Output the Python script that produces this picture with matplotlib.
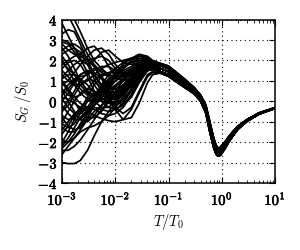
import matplotlib
matplotlib.use("Agg")
import matplotlib.pyplot as plt
import matplotlib.patheffects as pe

plt.rcParams['mathtext.fontset'] = 'cm'
plt.rcParams['font.family'] = 'serif'
plt.rcParams['font.serif'] = ['DejaVu Serif']

# x grid (T/T0) for the spread-out low-temperature part
x_head = [0.001, 0.0013, 0.0017, 0.0022, 0.003, 0.004, 0.0055, 0.0075,
          0.01, 0.014, 0.02, 0.028, 0.04, 0.05]
# x grid for the converged high-temperature part
x_tail = [0.07, 0.1, 0.15, 0.2, 0.3, 0.4, 0.5, 0.6, 0.7, 0.75, 0.8, 0.85, 0.9,
          0.95, 1.0, 1.15, 1.3, 1.6, 2.0, 3.0, 5.0, 10.0]

tail_top = [1.85, 1.72, 1.35, 1.08, 0.68, 0.3, -0.18, -1.05, -1.78, -2.03, -2.2, -2.28,
            -2.28, -2.23, -2.15, -1.98, -1.78, -1.49, -1.22, -0.89, -0.57, -0.31]
tail_hi = [1.75, 1.6, 1.25, 1.0, 0.62, 0.25, -0.25, -1.15, -1.85, -2.1, -2.27, -2.35,
           -2.35, -2.3, -2.22, -2.03, -1.82, -1.52, -1.24, -0.9, -0.58, -0.32]
tail_mid = [1.6, 1.45, 1.1, 0.87, 0.52, 0.15, -0.38, -1.3, -2.0, -2.25, -2.42, -2.5,
            -2.5, -2.45, -2.36, -2.15, -1.92, -1.6, -1.3, -0.93, -0.6, -0.33]
tail_lo = [1.45, 1.3, 0.97, 0.75, 0.42, 0.05, -0.5, -1.45, -2.15, -2.4, -2.57, -2.63,
           -2.62, -2.57, -2.48, -2.26, -2.02, -1.68, -1.35, -0.96, -0.62, -0.34]
tail_bot = [1.38, 1.22, 0.9, 0.68, 0.37, 0.0, -0.58, -1.55, -2.25, -2.48, -2.63, -2.68,
            -2.67, -2.62, -2.54, -2.31, -2.06, -1.71, -1.37, -0.97, -0.63, -0.35]
tails = [tail_top, tail_hi, tail_mid, tail_lo, tail_bot]

heads = [
    [-3.0, -3.05, -3.05, -2.9, -2.4, -1.7, -1.0, -0.5, -0.1, 0.35, 0.8, 1.2, 1.5, 1.55],
    [4.6, 4.2, 3.6, 3.0, 2.3, 1.8, 1.4, 1.2, 1.1, 1.2, 1.4, 1.6, 1.75, 1.7],
    [4.3, 4.3, 4.0, 3.4, 2.6, 2.0, 1.6, 1.3, 1.2, 1.3, 1.5, 1.7, 1.8, 1.75],
    [3.0, 2.9, 2.6, 2.1, 1.4, 0.8, 0.3, 0.1, 0.1, 0.4, 0.9, 1.4, 1.75, 1.72],
    [2.9, 2.8, 2.4, 2.0, 1.8, 2.0, 2.4, 2.5, 2.2, 1.9, 1.8, 1.9, 2.0, 1.85],
    [2.6, 2.2, 1.6, 1.0, 0.5, 0.3, 0.4, 0.8, 1.3, 1.7, 1.9, 2.0, 1.95, 1.85],
    [2.3, 2.5, 2.6, 2.4, 1.8, 1.1, 0.5, 0.1, -0.1, 0.1, 0.6, 1.2, 1.6, 1.65],
    [2.0, 1.5, 1.0, 0.6, 0.3, 0.3, 0.6, 1.0, 1.4, 1.8, 2.1, 2.3, 2.2, 2.0],
    [1.8, 2.0, 2.2, 2.3, 2.1, 1.7, 1.1, 0.5, 0.0, -0.2, 0.2, 0.9, 1.5, 1.6],
    [1.5, 1.2, 0.8, 0.4, 0.1, 0.0, 0.2, 0.6, 1.0, 1.3, 1.5, 1.7, 1.75, 1.7],
    [1.2, 1.5, 1.8, 2.0, 2.0, 1.7, 1.2, 0.8, 0.6, 0.7, 1.0, 1.4, 1.7, 1.7],
    [1.0, 0.6, 0.2, -0.1, -0.3, -0.2, 0.2, 0.7, 1.2, 1.6, 1.9, 2.0, 1.9, 1.8],
    [0.8, 1.0, 1.4, 1.8, 2.2, 2.5, 2.6, 2.3, 1.8, 1.4, 1.3, 1.4, 1.6, 1.6],
    [0.5, 0.0, -0.5, -0.9, -1.0, -0.7, -0.2, 0.3, 0.7, 1.0, 1.3, 1.5, 1.65, 1.6],
    [0.3, 0.6, 1.0, 1.3, 1.5, 1.4, 1.1, 0.7, 0.4, 0.4, 0.7, 1.2, 1.6, 1.65],
    [0.0, 0.4, 0.9, 1.3, 1.5, 1.3, 0.8, 0.2, -0.3, -0.6, -0.3, 0.5, 1.3, 1.45],
    [-0.2, -0.6, -0.9, -0.9, -0.5, 0.1, 0.7, 1.1, 1.3, 1.4, 1.6, 1.8, 1.85, 1.75],
    [-0.5, -0.2, 0.3, 0.8, 1.1, 1.0, 0.6, 0.1, -0.4, -0.9, -0.8, -0.1, 0.9, 1.3],
    [0.2, 0.1, -0.1, -0.3, -0.5, -0.7, -0.85, -0.95, -1.0, -0.9, -0.4, 0.4, 1.2, 1.4],
    [-0.8, -1.2, -1.4, -1.3, -0.8, -0.2, 0.4, 0.8, 1.0, 1.2, 1.5, 1.8, 1.9, 1.8],
    [-1.0, -0.5, 0.0, 0.4, 0.6, 0.5, 0.2, -0.1, -0.2, 0.0, 0.5, 1.1, 1.6, 1.6],
    [-1.3, -1.5, -1.5, -1.2, -0.6, 0.0, 0.5, 0.9, 1.2, 1.6, 2.0, 2.2, 2.1, 1.9],
    [-1.6, -1.2, -0.7, -0.3, 0.0, 0.1, 0.0, -0.1, 0.0, 0.3, 0.8, 1.3, 1.65, 1.65],
    [-1.9, -2.0, -1.8, -1.4, -0.9, -0.5, -0.2, 0.1, 0.4, 0.8, 1.2, 1.5, 1.7, 1.65],
    [-2.2, -1.8, -1.3, -0.8, -0.4, -0.3, -0.4, -0.5, -0.4, -0.1, 0.5, 1.1, 1.55, 1.6],
    [-2.4, -2.4, -2.2, -1.9, -1.4, -0.9, -0.4, 0.0, 0.3, 0.7, 1.1, 1.5, 1.75, 1.7],
    [-2.6, -2.2, -1.8, -1.5, -1.3, -1.2, -1.0, -0.7, -0.3, 0.2, 0.8, 1.3, 1.6, 1.6],
    [2.2, 1.8, 1.3, 0.8, 0.4, 0.2, 0.3, 0.5, 0.8, 1.1, 1.4, 1.7, 1.9, 1.8],
    [1.6, 1.9, 2.0, 1.8, 1.2, 0.5, 0.0, -0.3, -0.4, -0.2, 0.3, 1.0, 1.5, 1.6],
    [0.6, 0.3, 0.2, 0.3, 0.6, 1.0, 1.3, 1.4, 1.4, 1.5, 1.7, 1.9, 1.95, 1.85],
    [-0.4, 0.0, 0.5, 1.0, 1.4, 1.6, 1.5, 1.3, 1.2, 1.3, 1.5, 1.7, 1.85, 1.8],
    [3.3, 3.5, 3.4, 2.8, 2.0, 1.3, 0.8, 0.5, 0.4, 0.6, 1.0, 1.5, 1.8, 1.75],
    [2.8, 2.5, 2.3, 2.3, 2.6, 2.7, 2.3, 1.7, 1.2, 1.0, 1.1, 1.4, 1.7, 1.7],
    [1.3, 1.0, 0.8, 0.8, 1.0, 1.3, 1.6, 1.8, 1.9, 2.0, 2.1, 2.1, 2.0, 1.85],
    [-1.4, -1.0, -0.6, -0.4, -0.3, -0.4, -0.6, -0.7, -0.6, -0.3, 0.3, 1.0, 1.5, 1.55],
    [0.9, 0.5, 0.0, -0.5, -0.8, -0.8, -0.5, 0.0, 0.5, 1.0, 1.5, 1.9, 2.1, 1.95],
    [3.8, 3.2, 2.6, 2.2, 2.0, 2.1, 2.2, 2.0, 1.6, 1.3, 1.3, 1.5, 1.8, 1.75],
    [-2.0, -1.5, -0.9, -0.4, 0.1, 0.4, 0.5, 0.4, 0.3, 0.4, 0.8, 1.3, 1.7, 1.7],
    [1.1, 1.3, 1.3, 1.0, 0.5, 0.0, -0.3, -0.3, 0.0, 0.5, 1.1, 1.6, 1.9, 1.85],
    [-0.7, -0.9, -0.8, -0.4, 0.2, 0.8, 1.2, 1.4, 1.5, 1.7, 1.9, 2.1, 2.05, 1.9],
    [2.5, 2.7, 2.8, 2.6, 2.0, 1.3, 0.7, 0.3, 0.2, 0.4, 0.9, 1.4, 1.75, 1.7],
    [0.4, 0.8, 1.1, 1.1, 0.8, 0.4, 0.1, 0.0, 0.2, 0.6, 1.1, 1.5, 1.8, 1.75],
    [-1.1, -1.3, -1.1, -0.6, 0.0, 0.4, 0.6, 0.6, 0.6, 0.8, 1.2, 1.6, 1.85, 1.8],
    [1.9, 1.6, 1.3, 1.2, 1.3, 1.5, 1.7, 1.7, 1.5, 1.3, 1.3, 1.5, 1.75, 1.7],
    [-2.3, -2.0, -1.6, -1.1, -0.6, -0.2, 0.1, 0.2, 0.3, 0.5, 0.9, 1.4, 1.75, 1.7],
    [0.1, -0.3, -0.6, -0.6, -0.3, 0.2, 0.8, 1.3, 1.6, 1.9, 2.1, 2.25, 2.15, 1.95],
]
# which converged tail each curve joins (0 = top ... 4 = bottom)
tail_idx = [3, 2, 1, 2, 1, 1, 2, 0, 3, 3, 2, 1, 3, 3, 2, 4, 2, 4, 4, 1,
            3, 1, 2, 4, 3, 2, 3, 1, 3, 1, 1, 2, 3, 1, 3, 0, 2, 1, 1, 1,
            3, 2, 1, 2, 4, 0]

x_ticks = [1e-3, 1e-2, 1e-1, 1e0, 1e1]
x_tick_labels = ['$10^{-3}$', '$10^{-2}$', '$10^{-1}$', '$10^{0}$', '$10^{1}$']
y_ticks = [-4, -3, -2, -1, 0, 1, 2, 3, 4]
y_tick_labels = ['$-4$', '$-3$', '$-2$', '$-1$', '$0$', '$1$', '$2$', '$3$', '$4$']

fig = plt.figure(figsize=(3.0, 2.5), dpi=100)
ax = fig.add_axes([0.207, 0.268, 0.71, 0.654])

x_all = x_head + x_tail
for h, ti in zip(heads, tail_idx):
    ax.plot(x_all, h + tails[ti], color='black', lw=1.25, solid_joinstyle='round')

ax.set_xscale('log')
ax.set_xlim(1e-3, 1e1)
ax.set_ylim(-4, 4)
ax.set_xticks(x_ticks)
ax.set_xticklabels(x_tick_labels)
ax.set_yticks(y_ticks)
ax.set_yticklabels(y_tick_labels)
ax.tick_params(which='both', direction='in', top=True, right=True, labelsize=10.5)
ax.tick_params(axis='x', which='major', pad=5)
ax.tick_params(axis='y', which='major', pad=3)
ax.tick_params(which='major', length=4, width=0.8)
ax.tick_params(which='minor', length=2, width=0.6)
ax.grid(True, which='major', color='black', linestyle=(0, (1, 3)), linewidth=0.8)
for s in ax.spines.values():
    s.set_linewidth(1.1)

ax.set_xlabel('$T/T_0$', fontsize=10.5, labelpad=3)
ax.set_ylabel('$S_G\\,/S_0$', fontsize=10.5)
ax.yaxis.set_label_coords(-0.136, 0.5)

bold = [pe.withStroke(linewidth=0.4, foreground='black')]
for t in ax.get_xticklabels() + ax.get_yticklabels():
    t.set_path_effects(bold)

fig.savefig('out.png', dpi=100)
